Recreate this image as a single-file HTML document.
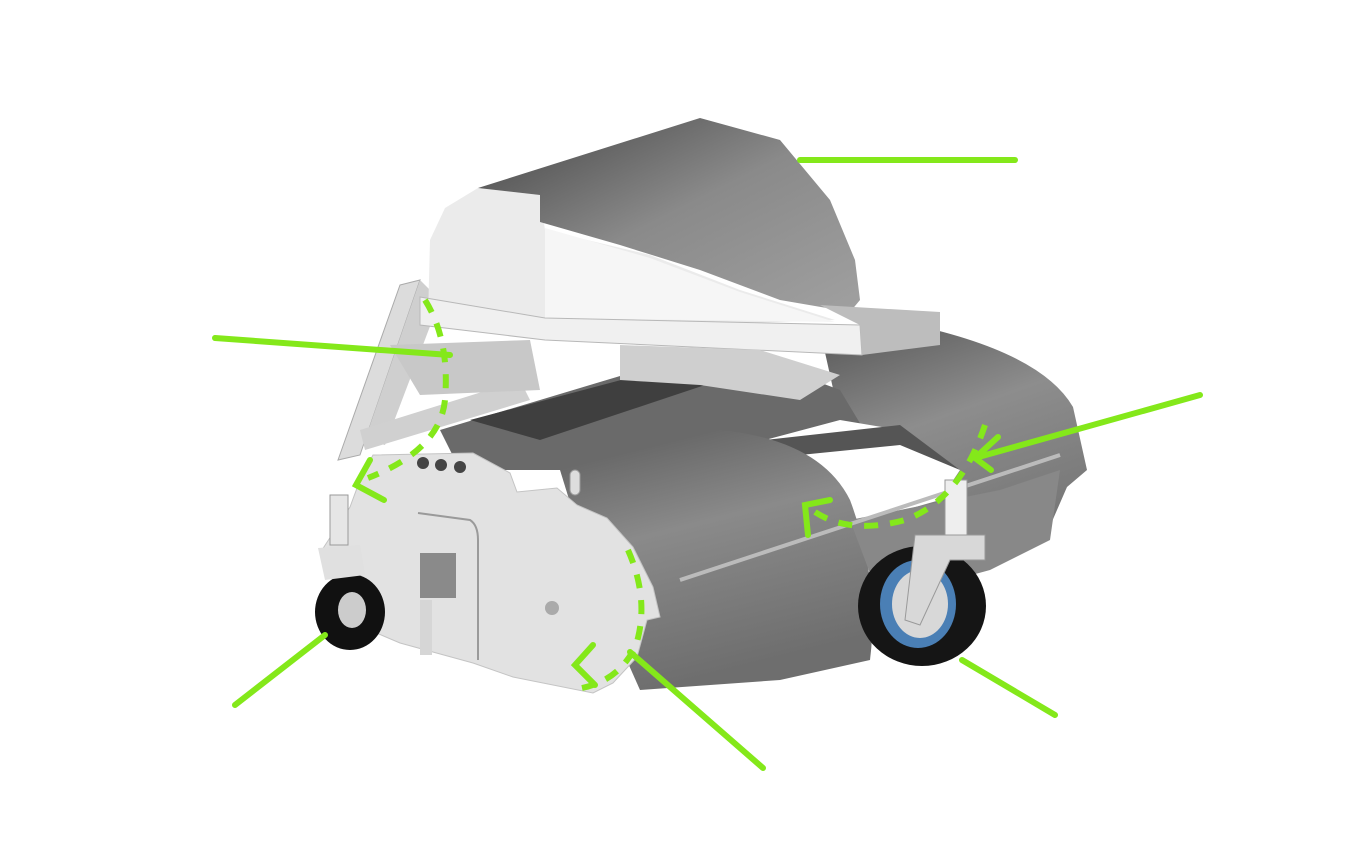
<!DOCTYPE html>
<html><head><meta charset="utf-8"><style>html,body{margin:0;padding:0;background:#fff}svg{display:block}</style></head>
<body>
<svg width="1346" height="844" viewBox="0 0 1346 844" xmlns="http://www.w3.org/2000/svg">
<defs>
<linearGradient id="cyl" x1="0" y1="0" x2="0.3" y2="1">
<stop offset="0" stop-color="#5c5c5c"/><stop offset="0.45" stop-color="#8a8a8a"/><stop offset="1" stop-color="#6e6e6e"/></linearGradient>
<linearGradient id="cyl2" x1="0" y1="0" x2="0.4" y2="1">
<stop offset="0" stop-color="#555"/><stop offset="0.5" stop-color="#8d8d8d"/><stop offset="1" stop-color="#777"/></linearGradient>
<linearGradient id="hood" x1="0" y1="0" x2="1" y2="1">
<stop offset="0" stop-color="#444"/><stop offset="0.5" stop-color="#8a8a8a"/><stop offset="1" stop-color="#a0a0a0"/></linearGradient>
</defs>
<!-- left frame legs -->
<polygon points="400,285 420,280 360,455 338,460" fill="#dcdcdc" stroke="#aaa"/>
<polygon points="420,280 440,300 385,445 365,440" fill="#cfcfcf"/>
<polygon points="360,430 520,380 530,400 365,450" fill="#d0d0d0"/>
<polygon points="390,345 530,340 540,390 420,395" fill="#c8c8c8"/>
<!-- rear cylinder -->
<path d="M820,330 L900,322 Q1040,350 1073,407 L1087,470 L1067,487 L1047,533 L1000,560 L880,560 L840,420 Z" fill="url(#cyl2)"/>
<!-- top trough -->
<polygon points="440,430 640,370 760,360 840,390 870,440 780,470 600,470 460,470" fill="#6a6a6a"/>
<polygon points="470,420 640,375 720,380 540,440" fill="#3f3f3f"/>
<polygon points="765,440 840,420 900,430 960,470 940,500 870,520 820,470" fill="#fff"/>
<polygon points="765,440 900,425 960,470 900,445 800,455" fill="#555"/>
<!-- front cylinder -->
<path d="M560,470 L720,430 Q820,440 850,500 Q880,580 870,660 L780,680 L640,690 L600,600 Z" fill="url(#cyl)"/>
<path d="M850,520 L1000,490 L1060,470 L1050,540 L990,570 L880,600 Z" fill="#888"/>
<line x1="680" y1="580" x2="1060" y2="455" stroke="#bbb" stroke-width="4"/>
<!-- end plate -->
<polygon points="373,455 473,453 510,473 517,492 557,488 577,505 607,518 633,547 653,587 660,617 647,620 637,657 613,683 593,693 513,677 473,663 400,643 353,623 320,553 350,507 360,480" fill="#e2e2e2" stroke="#c4c4c4"/>
<path d="M418,513 L470,520 Q478,525 478,540 L478,660" fill="none" stroke="#9a9a9a" stroke-width="2"/>
<rect x="420" y="553" width="36" height="45" fill="#8a8a8a"/>
<rect x="420" y="600" width="12" height="55" fill="#d6d6d6"/>
<circle cx="423" cy="463" r="6" fill="#444"/><circle cx="441" cy="465" r="6" fill="#444"/><circle cx="460" cy="467" r="6" fill="#444"/>
<circle cx="552" cy="608" r="7" fill="#aaa"/>
<rect x="570" y="470" width="10" height="25" rx="5" fill="#ddd" stroke="#999"/>
<!-- hood -->
<polygon points="478,188 540,195 545,230 650,255 740,290 835,320 540,330 428,318 430,240 445,208" fill="#ebebeb"/>
<polygon points="545,228 650,258 740,292 835,322 545,318" fill="#f6f6f6"/>
<polygon points="478,188 700,118 780,140 830,200 855,260 860,300 850,312 780,300 700,270 620,245 540,222 540,195" fill="url(#hood)"/>
<!-- beam -->
<polygon points="420,297 545,318 860,325 862,355 545,340 420,325" fill="#f0f0f0" stroke="#b8b8b8"/>
<polygon points="820,305 940,312 940,345 862,355 860,325" fill="#bdbdbd"/>
<polygon points="620,345 760,350 840,375 800,400 700,385 620,380" fill="#cfcfcf"/>
<!-- left wheel -->
<ellipse cx="350" cy="612" rx="35" ry="38" fill="#111"/>
<ellipse cx="352" cy="610" rx="14" ry="18" fill="#ccc"/>
<rect x="330" y="495" width="18" height="50" fill="#e6e6e6" stroke="#999"/>
<polygon points="318,548 360,545 365,575 325,580" fill="#e0e0e0"/>
<!-- right wheel -->
<ellipse cx="922" cy="606" rx="64" ry="60" fill="#151515"/>
<ellipse cx="918" cy="604" rx="38" ry="44" fill="#4a7fb5"/>
<ellipse cx="920" cy="604" rx="28" ry="34" fill="#d8d8d8"/>
<rect x="945" y="480" width="22" height="60" fill="#eee" stroke="#999"/>
<polygon points="915,535 985,535 985,560 950,560 920,625 905,620" fill="#d8d8d8" stroke="#999"/>
<!-- green callouts -->
<g stroke="#84e81a" stroke-width="6" fill="none" stroke-linecap="round">
<line x1="800" y1="160" x2="1015" y2="160"/>
<line x1="215" y1="338" x2="450" y2="355"/>
<line x1="1200" y1="395" x2="975" y2="458"/>
<polyline points="998,437 975,458 991,470"/>
<line x1="235" y1="705" x2="325" y2="635"/>
<line x1="763" y1="768" x2="630" y2="652"/>
<line x1="1055" y1="715" x2="962" y2="660"/>
<polyline points="370,460 356,485 384,500"/>
<polyline points="830,500 805,505 808,535"/>
<polyline points="598,665 580,685 600,705" transform="translate(-5,-20)"/>
</g>
<g stroke="#84e81a" stroke-width="6" fill="none" stroke-dasharray="14,12">
<path d="M425,300 Q450,340 445,400 Q440,450 368,478"/>
<path d="M985,425 Q960,500 905,520 Q850,535 815,512"/>
<path d="M628,550 Q650,600 636,645 Q620,680 582,688"/>
</g>
</svg>
</body></html>
